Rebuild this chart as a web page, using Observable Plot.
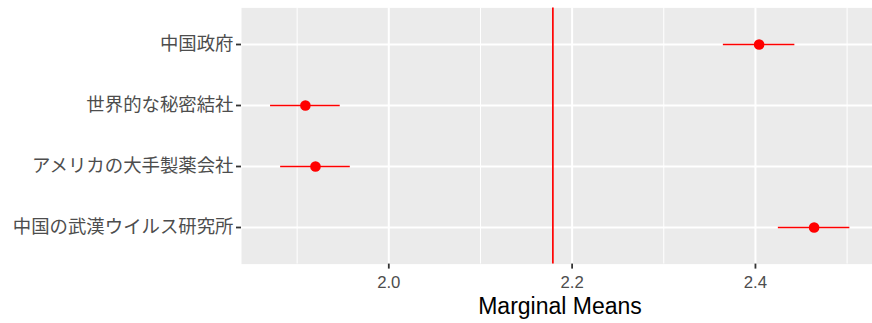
<!DOCTYPE html>
<html>
<head>
<meta charset="utf-8">
<script src="https://cdn.jsdelivr.net/npm/d3@7"></script>
<script src="https://cdn.jsdelivr.net/npm/@observablehq/plot@0.6"></script>
<style>
  html, body { margin: 0; padding: 0; background: white; }
  #chart svg { display: block; }
  #chart g[aria-label="x-axis tick"], #chart g[aria-label="y-axis tick"] { stroke: #333333; stroke-width: 1.8; }
  #chart g[aria-label="x-axis tick label"] { fill: #4D4D4D; font-family: "Liberation Sans", Arial, sans-serif; }
  #chart g[aria-label="y-axis tick label"] { fill: #4D4D4D; font-family: "Noto Sans CJK JP", sans-serif; }
</style>
</head>
<body>
<div id="chart"></div>
<script>
const categories = ["中国政府", "世界的な秘密結社", "アメリカの大手製薬会社", "中国の武漢ウイルス研究所"];
const estimates = [2.404, 1.909, 1.920, 2.464];
const lower = [2.365, 1.871, 1.882, 2.425];
const upper = [2.443, 1.947, 1.958, 2.503];
const grandMean = 2.179;
const xTicks = [2.0, 2.2, 2.4];
const xMinor = [1.9, 2.1, 2.3, 2.5];
const xLabel = "Marginal Means";

const data = categories.map((c, i) => ({cat: c, est: estimates[i], lo: lower[i], hi: upper[i]}));

const chart = Plot.plot({
  width: 872,
  height: 323,
  marginLeft: 241,
  marginRight: 0,
  marginTop: 7.4,
  marginBottom: 59.4,
  style: {background: "white", fontFamily: "'Liberation Sans', Arial, sans-serif"},
  x: {domain: [1.8393, 2.5277]},
  y: {type: "point", domain: categories, padding: 0.6},
  marks: [
    Plot.frame({fill: "#EBEBEB", stroke: null}),
    Plot.gridX(xMinor, {stroke: "white", strokeOpacity: 1, strokeWidth: 1}),
    Plot.gridX(xTicks, {stroke: "white", strokeOpacity: 1, strokeWidth: 2}),
    Plot.gridY(categories, {stroke: "white", strokeOpacity: 1, strokeWidth: 2}),
    Plot.ruleX([grandMean], {stroke: "red", strokeWidth: 1.7}),
    Plot.ruleY(data, {y: "cat", x1: "lo", x2: "hi", stroke: "red", strokeWidth: 1.6}),
    Plot.dot(data, {x: "est", y: "cat", r: 5.3, fill: "red", stroke: null}),
    Plot.axisX(xTicks, {tickSize: 5, tickPadding: 6.5, fontSize: 16.8, tickFormat: d => d.toFixed(1), label: null}),
    Plot.axisY({tickSize: 5, tickPadding: 3, fontSize: 18.4, label: null}),
    Plot.text([xLabel], {frameAnchor: "bottom", lineAnchor: "bottom", dy: 50, dx: 3, fontSize: 23, fill: "black"})
  ]
});
document.getElementById("chart").appendChild(chart);
</script>
</body>
</html>
